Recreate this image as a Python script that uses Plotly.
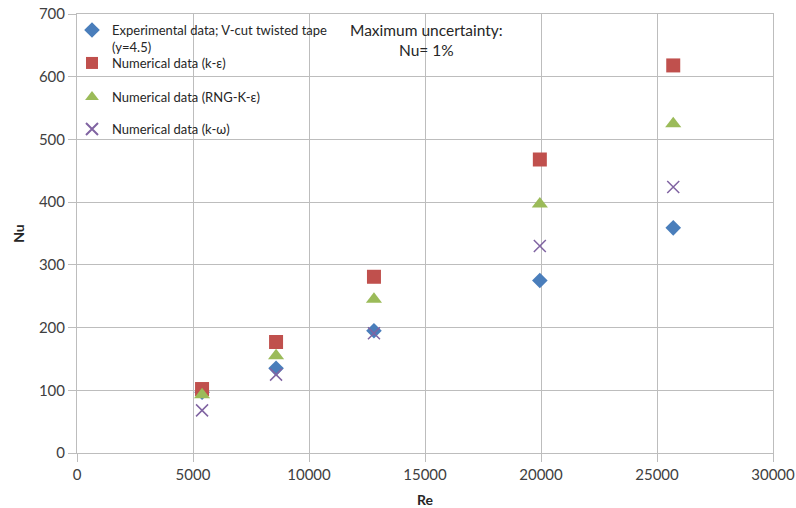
import plotly.graph_objects as go

re_vals = [5390, 8580, 12800, 19950, 25700]
nu_exp = [97, 135, 195, 275, 359]
nu_ke = [102, 177, 281, 468, 618]
nu_rng = [93, 155, 245, 397, 525]
nu_kw = [68, 125, 191, 330, 424]

names = [
    "Experimental data; V-cut twisted tape<br>(y=4.5)",
    "Numerical data (k-ε)",
    "Numerical data (RNG-K-ε)",
    "Numerical data (k-ω)",
]

fig = go.Figure()
fig.add_trace(go.Scatter(x=re_vals, y=nu_exp, mode="markers", name=names[0], legend="legend",
                         marker=dict(symbol="diamond", size=12, color="#4a7ebb")))
fig.add_trace(go.Scatter(x=re_vals, y=nu_ke, mode="markers", name=names[1], legend="legend2",
                         marker=dict(symbol="square", size=14, color="#c0504d")))
fig.add_trace(go.Scatter(x=re_vals, y=nu_rng, mode="markers", name=names[2], legend="legend3",
                         marker=dict(symbol="triangle-up", size=14, color="#9bbb59")))
fig.add_trace(go.Scatter(x=re_vals, y=nu_kw, mode="markers", name=names[3], legend="legend4",
                         marker=dict(symbol="x-thin-open", size=12, color="#8064a2",
                                     line=dict(width=1.5, color="#8064a2"))))

plot_top, plot_bot = 14, 453


def ly(py):
    return (plot_bot - py) / (plot_bot - plot_top)


fig.add_annotation(x=15050, y=ly(19), xref="x", yref="paper", xanchor="center", yanchor="top",
                   text="Maximum uncertainty:<br>Nu= 1%", showarrow=False,
                   font=dict(size=15.5, color="#262626", family="Lato"), align="center")

axis_common = dict(showgrid=True, gridcolor="#bdbdbd", gridwidth=1, zeroline=False,
                   showline=True, linecolor="#bdbdbd", ticks="outside", ticklen=8,
                   tickcolor="#bdbdbd", tickformat="d", automargin=False,
                   tickfont=dict(size=15, color="#404040", family="Lato"))

leg_common = dict(xanchor="left", yanchor="middle", bgcolor="rgba(0,0,0,0)",
                  font=dict(size=13, family="Lato", color="#262626"), itemwidth=30,
                  itemsizing="constant", valign="top")

lx = (72 - 77) / 696

fig.update_layout(
    width=796, height=508,
    margin=dict(l=77, r=23, t=14, b=55),
    paper_bgcolor="white", plot_bgcolor="white",
    font=dict(family="Lato", color="#262626"),
    xaxis=dict(range=[0, 30000], dtick=5000, mirror=True,
               title=dict(text="<b>Re</b>", font=dict(size=14), standoff=13), **axis_common),
    yaxis=dict(range=[0, 700], dtick=100, mirror=True,
               title=dict(text="<b>Nu</b>", font=dict(size=14), standoff=10), **axis_common),
    legend=dict(x=lx, y=ly(38.5), **leg_common),
    legend2=dict(x=lx, y=ly(63), **leg_common),
    legend3=dict(x=lx, y=ly(97), **leg_common),
    legend4=dict(x=lx, y=ly(129), **leg_common),
    showlegend=True,
)

fig.write_html("out.html")
